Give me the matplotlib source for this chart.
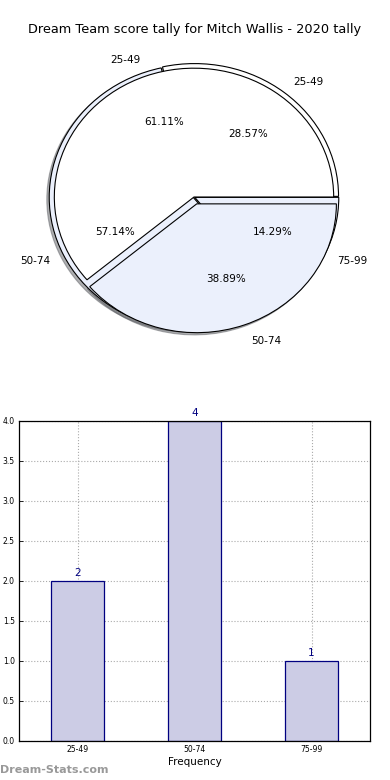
import matplotlib
matplotlib.use("Agg")
import matplotlib.pyplot as plt

title = "Dream Team score tally for Mitch Wallis - 2020 tally"
bins = ["25-49", "50-74", "75-99"]
freq = [2, 4, 1]
pie2_labels = ["25-49", "50-74"]
pie2_values = [11, 7]
yticks = [0.0, 0.5, 1.0, 1.5, 2.0, 2.5, 3.0, 3.5, 4.0]

WHITE = "white"
BLUE = "#EBF0FC"

fig = plt.figure(figsize=(3.9, 7.8), dpi=100)
fig.text(0.5, 1 - 30 / 780, title, ha="center", va="center", fontsize=9.3)

shadow = {"ox": -0.012, "oy": -0.012, "shade": 0.6}

# pie axes
axp = fig.add_axes([14 / 390, 1 - 363 / 780, 360 / 390, 332 / 780])
axp.pie(freq, labels=bins, colors=[WHITE, BLUE, BLUE], explode=[0.006, 0.006, 0.006],
        autopct="%.2f%%", pctdistance=0.6, labeldistance=1.1, shadow=shadow,
        startangle=0, wedgeprops=dict(edgecolor="black", linewidth=0.8),
        textprops=dict(fontsize=7.5))
axp.pie(pie2_values, labels=pie2_labels, colors=[WHITE, BLUE], explode=[0, 0.055],
        radius=0.97, autopct="%.2f%%", pctdistance=0.62, labeldistance=1.13,
        shadow=shadow, startangle=0,
        wedgeprops=dict(edgecolor="black", linewidth=0.8),
        textprops=dict(fontsize=7.5))
axp.set_aspect("auto")
axp.set_xlim(-1.25, 1.25)
axp.set_ylim(-1.25, 1.25)
axp.axis("off")

# bar axes
axb = fig.add_axes([19 / 390, 1 - 741 / 780, 351 / 390, 320 / 780])
x = list(range(len(bins)))
axb.bar(x, freq, width=0.45, color="#CCCCE5", edgecolor="#000080", linewidth=0.9, zorder=2)
for xi, v in zip(x, freq):
    axb.text(xi, v + 0.04, str(v), ha="center", va="bottom", fontsize=7.5, color="#000080")
axb.set_xlim(-0.5, 2.5)
axb.set_ylim(0, 4.0)
axb.set_xticks(x)
axb.set_xticklabels(bins, fontsize=5.5)
axb.set_yticks(yticks)
axb.set_yticklabels(["%.1f" % t for t in yticks], fontsize=5.5)
axb.tick_params(direction="in", length=3, width=0.6, pad=3, top=False, right=False)
axb.grid(True, linestyle=":", color="#aaaaaa", linewidth=0.8, zorder=0)
axb.set_axisbelow(True)
axb.set_xlabel("Frequency", fontsize=7.5, labelpad=2)
for s in axb.spines.values():
    s.set_linewidth(0.9)

fig.text(0.0, 1 - 770 / 780, "Dream-Stats.com", ha="left", va="center",
         fontsize=8, color="#999999", fontweight="bold")

fig.savefig("out.png", dpi=100)
